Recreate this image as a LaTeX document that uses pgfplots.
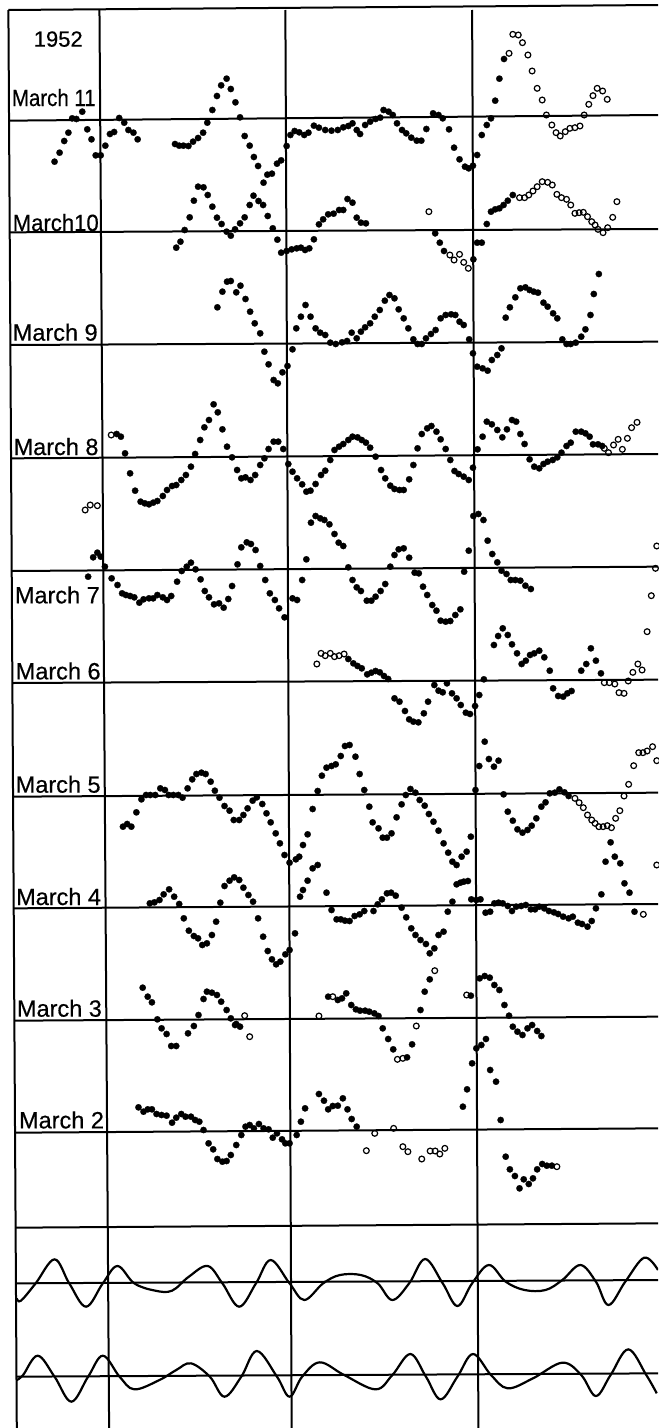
\documentclass[border=0pt]{standalone}
\usepackage{pgfplots}
\pgfplotsset{compat=1.18}
\usepackage{graphicx}
\usepackage{fontspec}
\setmainfont{Liberation Sans}
\newfontfamily\lab[FakeBold=0.5]{Liberation Sans}
\begin{document}
\begin{tikzpicture}
\begin{axis}[
  x=0.419643pt, y=0.333333pt, y dir=reverse,
  xmin=0, xmax=1568, ymin=0, ymax=4284,
  hide axis,
]
\coordinate (ll) at (axis cs:0,4284);
\coordinate (ur) at (axis cs:1568,0);
% ---- grid lines ----
\pgfplotsset{gl/.style={line width=2pt, black, no marks}}
\addplot[gl] coordinates {(20,30) (1568,15)};
\addplot[gl] coordinates {(20,30) (40,4284)};
\addplot[gl] coordinates {(237,30) (260,4284)};
\addplot[gl] coordinates {(680,30) (695,4284)};
\addplot[gl] coordinates {(1125,30) (1140,4284)};
\addplot[gl] coordinates {(20,362) (1568,345)};
\addplot[gl] coordinates {(23,697) (1568,687)};
\addplot[gl] coordinates {(25,1035) (1568,1025)};
\addplot[gl] coordinates {(26,1375) (1568,1362)};
\addplot[gl] coordinates {(28,1713) (1568,1700)};
\addplot[gl] coordinates {(30,2049) (1568,2039)};
\addplot[gl] coordinates {(31,2390) (1568,2378)};
\addplot[gl] coordinates {(32,2725) (1568,2712)};
\addplot[gl] coordinates {(34,3062) (1568,3050)};
\addplot[gl] coordinates {(36,3398) (1568,3385)};
\addplot[gl] coordinates {(37,3683) (1568,3670)};
\addplot[gl] coordinates {(38,3850) (1568,3840)};
\addplot[gl] coordinates {(39,4130) (1568,4120)};
% ---- filled points ----
\pgfplotsset{fd/.style={only marks, mark=*, mark size=3.2pt, mark options={fill=black, draw=black, line width=0.2pt}}}
\pgfplotsset{op/.style={only marks, mark=o, mark size=2.9pt, mark options={draw=black, line width=1.2pt, fill=white}}}
\addplot[fd] table {
130 485
142 458
153 423
163 398
172 355
182 357
196 335
208 388
218 418
228 466
240 466
251 437
262 402
272 396
284 354
296 368
306 390
318 398
328 418
417 432
427 437
437 437
449 438
460 425
472 414
484 398
494 368
506 330
517 288
527 256
540 236
550 267
561 307
572 352
583 408
595 437
605 471
615 498
637 524
648 521
660 491
670 481
683 438
692 405
702 393
713 397
725 405
735 398
748 377
760 383
775 390
790 392
805 390
818 382
830 378
840 370
850 390
858 402
870 375
882 365
895 357
906 353
914 330
926 335
936 345
946 370
958 390
968 400
980 413
993 422
1004 422
1016 387
1032 340
1045 345
1055 355
1070 388
1082 443
1095 478
1108 500
1117 505
1127 497
1137 465
1148 405
1160 375
1170 355
1180 302
1190 236
1201 177
};
\addplot[op] table {
1213 160
1222 103
1235 105
1245 128
1258 165
1268 213
1280 265
1292 300
1302 345
1315 375
1325 398
1335 408
1347 395
1358 385
1370 383
1382 378
1392 345
1403 313
1413 287
1423 265
1436 273
1447 298
};
% strip 2
\addplot[fd] table {
628 548
420 743
430 725
440 690
452 652
462 602
472 560
485 562
495 585
506 620
517 653
528 672
540 695
550 707
560 688
572 670
583 652
595 615
604 587
616 603
627 615
638 648
650 685
661 719
670 758
683 753
695 748
707 745
717 743
727 750
737 745
748 718
760 673
770 658
782 643
795 641
808 630
818 630
828 597
840 608
850 653
860 668
872 670
1037 700
1048 728
1058 753
1128 778
1137 728
1148 728
1160 672
1170 635
1180 628
1190 625
1200 615
1210 602
1222 585
518 922
530 875
541 845
550 843
563 877
573 857
585 897
596 935
607 970
620 1000
706 985
717 950
728 915
740 950
752 985
763 998
775 1005
787 1028
800 1032
815 1027
827 1023
838 998
850 1015
860 995
870 982
882 970
893 950
905 930
917 902
928 885
940 895
950 928
962 955
973 985
985 1018
995 1032
1005 1032
1015 1015
1027 1002
1038 990
1050 955
1062 945
1075 943
1085 945
1095 965
1105 975
1118 1018
1205 953
1215 922
1228 892
1240 865
1252 862
1262 870
1272 875
1282 878
1295 908
1305 920
1318 940
1328 955
1340 1018
1350 1032
1360 1032
1372 1028
1385 1010
1395 988
1407 945
1415 882
1427 822
};
\addplot[op] table {
1022 635
1072 765
1082 780
1095 763
1105 787
1116 805
1238 593
1250 593
1260 585
1270 573
1280 560
1292 545
1305 547
1316 555
1327 583
1338 593
1350 598
1360 615
1370 640
1380 638
1390 637
1400 650
1410 665
1418 675
1425 688
1437 698
1448 683
1460 652
1470 605
};
% strip 3
\addplot[fd] table {
630 1055
640 1093
652 1140
662 1150
673 1117
685 1098
697 1048
278 1302
288 1310
298 1360
310 1420
322 1472
335 1505
345 1510
355 1513
365 1508
375 1503
388 1488
398 1470
410 1458
420 1455
432 1440
443 1425
455 1400
465 1362
477 1320
487 1282
498 1260
509 1213
519 1237
530 1288
541 1340
553 1372
565 1410
575 1435
585 1432
597 1440
608 1425
620 1395
630 1375
640 1347
652 1325
663 1325
675 1347
687 1392
697 1415
708 1435
720 1453
730 1475
740 1472
752 1452
765 1425
775 1412
787 1380
797 1350
808 1340
818 1332
830 1320
840 1310
852 1312
862 1320
872 1328
882 1343
895 1370
908 1410
918 1435
930 1457
940 1467
952 1470
962 1470
975 1438
985 1395
995 1345
1005 1302
1018 1285
1028 1278
1040 1295
1050 1318
1062 1347
1073 1380
1083 1413
1093 1422
1105 1430
1117 1440
1127 1060
1137 1100
1150 1105
1162 1112
1172 1080
1185 1065
1195 1045
1127 1403
1138 1348
1150 1310
1160 1265
1172 1273
1185 1290
1197 1312
1208 1288
1220 1260
1230 1265
1240 1302
1250 1332
1262 1378
1273 1400
1285 1405
1295 1392
1305 1385
1317 1380
1328 1372
1338 1358
1350 1338
1360 1328
1372 1295
1385 1295
1395 1300
1405 1310
1413 1333
1425 1333
1435 1338
};
\addplot[op] table {
265 1305
203 1530
215 1515
232 1517
1440 1345
1450 1358
1462 1335
1473 1318
1483 1348
1495 1315
1505 1283
1518 1267
};
% strip 4
\addplot[fd] table {
752 1548
763 1555
773 1560
785 1573
797 1602
807 1628
818 1638
830 1702
840 1740
850 1762
860 1773
874 1802
885 1802
895 1790
907 1773
918 1752
930 1700
940 1665
950 1648
962 1645
975 1673
988 1718
998 1720
1008 1760
1018 1785
1030 1815
1040 1832
1050 1862
1062 1865
1073 1863
1085 1845
1097 1828
1106 1715
1117 1652
1128 1548
1140 1542
1152 1560
1162 1622
1173 1662
1185 1687
1195 1712
1207 1722
1217 1740
1228 1740
1240 1742
1252 1757
1265 1767
210 1730
222 1672
232 1658
240 1670
250 1700
266 1735
280 1755
291 1780
300 1785
310 1788
320 1792
332 1808
342 1798
355 1795
365 1795
375 1785
388 1792
398 1800
408 1788
422 1745
433 1713
445 1700
455 1688
466 1708
478 1738
488 1773
498 1792
510 1813
522 1810
533 1823
544 1797
553 1758
566 1693
575 1642
588 1627
598 1632
609 1650
620 1698
632 1740
643 1780
655 1800
665 1825
678 1852
697 1795
708 1800
720 1740
730 1678
741 1568
830 1977
842 1990
852 1998
862 2005
875 2023
885 2018
895 2013
905 2017
915 2028
925 2037
1065 2050
1153 2038
1177 1935
1187 1908
1198 1885
1210 1905
1220 1933
1232 1960
1243 1992
1253 1982
1263 1965
1273 1960
1285 1952
1297 1972
1310 2012
1385 2012
1397 1992
1408 1945
1420 1982
1432 2020
};
\addplot[op] table {
755 1992
765 1960
775 1967
787 1960
797 1970
808 1967
820 1962
1440 2048
1452 2048
1465 2052
1497 2043
1508 2017
1520 1992
1530 2010
1565 1638
1562 1705
1552 1787
1542 1895
};
% strip 5
\addplot[fd] table {
940 2095
952 2105
965 2133
975 2158
985 2165
997 2167
1010 2140
1020 2105
1035 2055
1045 2072
1055 2077
1077 2080
1088 2095
1098 2115
1110 2138
1120 2142
1132 2118
1142 2085
1155 2225
1142 2298
1165 2277
1177 2300
1188 2282
1318 2065
1330 2088
1342 2090
1352 2080
1362 2073
1133 2370
1200 2383
1210 2435
1222 2462
1233 2488
1245 2498
1257 2490
1267 2477
1278 2455
1290 2420
1300 2407
1310 2380
1322 2378
1333 2368
1345 2377
1355 2388
1455 2527
293 2480
303 2472
313 2480
325 2437
337 2398
348 2385
358 2385
370 2385
382 2365
393 2370
402 2385
413 2385
425 2385
435 2393
447 2365
458 2338
468 2322
480 2318
490 2322
502 2345
512 2372
523 2393
535 2418
547 2432
557 2460
570 2460
580 2445
590 2425
602 2402
612 2392
625 2412
635 2440
645 2467
657 2500
667 2530
722 2535
733 2503
745 2427
757 2373
767 2327
778 2303
790 2298
800 2293
812 2268
822 2238
833 2235
847 2270
857 2322
868 2370
880 2420
888 2467
902 2485
912 2513
922 2513
933 2500
945 2452
957 2413
967 2385
978 2367
990 2378
1000 2400
1012 2417
1022 2442
1033 2465
1045 2492
1057 2530
1068 2558
1112 2555
1122 2510
};
\addplot[op] table {
1475 2078
1487 2080
1370 2395
1380 2408
1390 2423
1400 2445
1410 2460
1418 2470
1427 2480
1437 2480
1447 2477
1457 2483
1467 2455
1477 2432
1487 2388
1498 2353
1510 2297
1522 2258
1532 2258
1542 2253
1555 2240
1565 2282
};
% strip 6
\addplot[fd] table {
678 2565
690 2588
705 2578
713 2570
715 2690
722 2670
733 2642
745 2605
757 2595
778 2678
790 2730
802 2758
812 2758
822 2762
833 2763
845 2748
857 2743
868 2733
890 2733
900 2713
910 2698
922 2680
932 2678
943 2687
957 2723
968 2752
980 2785
990 2805
1002 2820
1015 2832
1024 2860
1035 2845
1045 2805
1057 2795
1067 2735
1078 2705
1088 2653
1097 2648
1105 2645
1115 2643
1078 2585
1088 2595
1100 2570
357 2710
368 2707
380 2700
390 2683
403 2668
415 2690
427 2712
438 2755
450 2792
462 2808
472 2815
482 2835
493 2830
505 2805
515 2765
525 2708
535 2658
547 2642
558 2632
570 2640
580 2663
592 2685
603 2705
615 2755
627 2810
638 2853
648 2878
658 2893
668 2885
680 2863
690 2850
703 2800
1123 2698
1135 2700
1145 2698
1157 2738
1168 2735
1178 2710
1188 2708
1198 2710
1210 2718
1220 2733
1230 2720
1242 2718
1253 2715
1265 2728
1275 2728
1285 2720
1297 2725
1308 2733
1320 2737
1330 2742
1342 2750
1355 2755
1365 2750
1377 2768
1387 2772
1400 2780
1410 2763
1420 2725
1433 2683
1443 2585
1465 2570
1478 2590
1488 2650
1500 2678
1512 2735
340 2963
352 2990
362 3007
375 3058
473 3045
485 2997
493 2975
505 2978
517 2985
527 3005
540 3030
550 3055
563 3072
782 2990
805 3000
815 2995
825 2980
837 3015
848 3028
858 3032
870 3032
880 3035
892 3040
902 3048
1002 3030
1012 2975
1024 2938
1122 2987
1143 2935
1155 2928
1167 2933
1178 2955
1190 2970
1202 3015
1213 3047
};
\addplot[op] table {
1533 2743
1565 2595
583 3047
760 3048
793 2990
1036 2912
1112 2985
};
% strip 7
\addplot[fd] table {
385 3085
397 3102
408 3138
420 3138
448 3100
462 3078
560 3075
572 3080
912 3085
925 3117
937 3148
970 3172
982 3133
1103 3320
1113 3268
1125 3190
1135 3145
1147 3135
1158 3117
1168 3210
1182 3245
1193 3360
1222 3080
1233 3095
1245 3105
1257 3085
1268 3075
1280 3093
1290 3108
330 3322
342 3335
352 3328
362 3328
373 3342
385 3345
397 3347
410 3368
420 3353
432 3342
442 3350
455 3350
465 3360
475 3365
485 3390
497 3430
508 3448
518 3477
530 3485
540 3483
550 3465
563 3435
575 3405
585 3380
595 3375
605 3385
617 3372
628 3385
640 3388
650 3413
660 3400
672 3418
680 3430
690 3430
707 3405
717 3365
727 3325
760 3282
772 3302
782 3328
793 3318
805 3317
817 3295
828 3328
838 3357
850 3380
1205 3470
1215 3508
1227 3528
1238 3565
1248 3538
1260 3552
1270 3535
1280 3508
1292 3492
1303 3497
1315 3497
};
\addplot[op] table {
595 3110
947 3178
960 3175
992 3078
873 3452
893 3400
938 3385
960 3440
972 3455
1005 3477
1025 3453
1037 3453
1048 3462
1060 3445
1327 3500
};
% ---- bottom curves ----
\addplot[smooth, tension=0.6, line width=2.2pt, black, no marks] coordinates {
(40,3895) (50,3902) (85,3850) (130,3778) (165,3850) (205,3920) (245,3850) (280,3798)
(320,3850) (370,3872) (410,3872) (450,3830) (495,3798) (530,3850) (570,3920) (610,3850)
(645,3780) (690,3850) (725,3900) (770,3850) (810,3825) (860,3825) (900,3850) (935,3900)
(975,3850) (1013,3777) (1055,3850) (1090,3918) (1125,3850) (1165,3795) (1205,3845)
(1250,3870) (1300,3870) (1340,3840) (1383,3795) (1420,3845) (1450,3915) (1490,3845)
(1535,3773) (1568,3810)};
\addplot[smooth, tension=0.6, line width=2.2pt, black, no marks] coordinates {
(40,4140) (55,4125) (90,4067) (130,4130) (170,4205) (210,4130) (245,4067) (285,4130)
(320,4168) (380,4140) (420,4110) (455,4090) (500,4130) (535,4190) (575,4130) (612,4053)
(660,4130) (690,4190) (720,4130) (762,4087) (820,4125) (895,4168) (935,4125) (978,4062)
(1015,4130) (1050,4198) (1090,4130) (1127,4062) (1170,4125) (1210,4165) (1270,4135)
(1340,4088) (1385,4125) (1420,4188) (1455,4125) (1497,4048) (1540,4125) (1565,4180)};
% ---- labels ----
\node[anchor=base west, font=\lab\fontsize{22}{24}\selectfont, inner sep=0pt] at (axis cs:80,140) {1952};
\node[anchor=base west, font=\lab\fontsize{23.5}{25}\selectfont, inner sep=0pt] at (axis cs:28,318) {\scalebox{0.87}[1]{March 11}};
\node[anchor=base west, font=\lab\fontsize{23.5}{25}\selectfont, inner sep=0pt] at (axis cs:30,693) {\scalebox{0.94}[1]{March10}};
\node[anchor=base west, font=\lab\fontsize{23.5}{25}\selectfont, inner sep=0pt] at (axis cs:30,1022) {March 9};
\node[anchor=base west, font=\lab\fontsize{23.5}{25}\selectfont, inner sep=0pt] at (axis cs:32,1365) {March 8};
\node[anchor=base west, font=\lab\fontsize{23.5}{25}\selectfont, inner sep=0pt] at (axis cs:35,1810) {March 7};
\node[anchor=base west, font=\lab\fontsize{23.5}{25}\selectfont, inner sep=0pt] at (axis cs:37,2038) {March 6};
\node[anchor=base west, font=\lab\fontsize{23.5}{25}\selectfont, inner sep=0pt] at (axis cs:37,2378) {March 5};
\node[anchor=base west, font=\lab\fontsize{23.5}{25}\selectfont, inner sep=0pt] at (axis cs:38,2715) {March 4};
\node[anchor=base west, font=\lab\fontsize{23.5}{25}\selectfont, inner sep=0pt] at (axis cs:40,3050) {March 3};
\node[anchor=base west, font=\lab\fontsize{23.5}{25}\selectfont, inner sep=0pt] at (axis cs:45,3385) {March 2};
\end{axis}
\pgfresetboundingbox
\path (ll) rectangle (ur);
\end{tikzpicture}
\end{document}
